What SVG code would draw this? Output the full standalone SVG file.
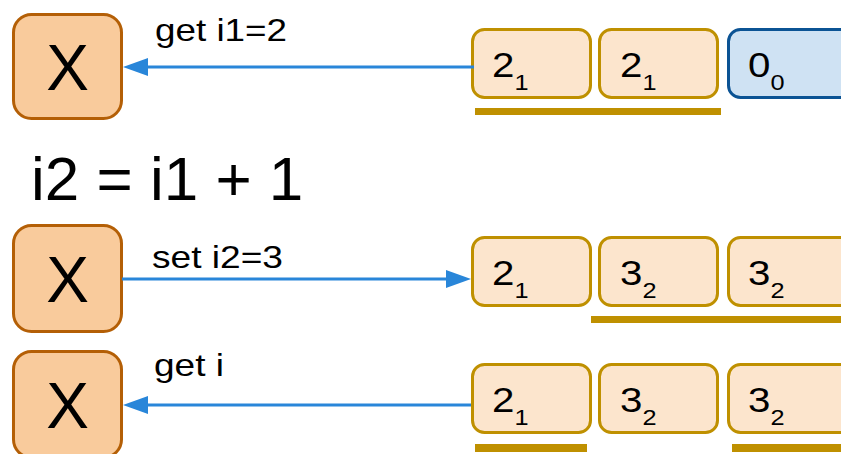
<svg xmlns="http://www.w3.org/2000/svg" width="841" height="454" viewBox="0 0 841 454">
<style>
.x rect{fill:#f9cb9c;stroke:#b45f06;stroke-width:3}
.x text{font-family:"Liberation Sans",Arial,sans-serif;font-size:64px;fill:#000;text-anchor:middle}
.c rect{fill:#fce5cd;stroke:#bf9000;stroke-width:3}
.c.b rect{fill:#cfe2f3;stroke:#0b5394}
.c text,.lbl,.big{font-family:"Liberation Sans",Arial,sans-serif;fill:#000}
.c text{font-size:35px}
.c tspan.s{font-size:22px}
.lbl{font-size:30.5px}
.big{font-size:62px}
.ul{fill:#bf9000}
.ln{stroke:#2986d9;stroke-width:3;fill:none}
.ah{fill:#2986d9}
</style>
<rect width="841" height="454" fill="#fff"/>
<g id="x1" class="x"><rect x="13.5" y="14.5" width="108" height="104" rx="18"/><text x="67.5" y="90">X</text></g>
<g id="x2" class="x"><rect x="13.5" y="225.5" width="108" height="106" rx="18"/><text x="67.5" y="302">X</text></g>
<g id="x3" class="x"><rect x="13.5" y="351.5" width="108" height="106" rx="18"/><text x="67.5" y="428">X</text></g>

<text class="big" x="31" y="200">i2 = i1 + 1</text>

<g id="r1c1" class="c"><rect x="472.5" y="29.5" width="118" height="68" rx="12"/><text transform="translate(492,77) scale(1.15,1)">2<tspan class="s" dy="13">1</tspan></text></g>
<g id="r1c2" class="c"><rect x="599.5" y="29.5" width="118" height="68" rx="12"/><text transform="translate(620,77) scale(1.15,1)">2<tspan class="s" dy="13">1</tspan></text></g>
<g id="r1c3" class="c b"><rect x="728.5" y="29.5" width="130" height="68" rx="12"/><text transform="translate(748,77) scale(1.15,1)">0<tspan class="s" dy="13">0</tspan></text></g>
<rect id="u1" class="ul" x="475" y="108" width="246" height="7"/>

<g id="r2c1" class="c"><rect x="472.5" y="237.5" width="118" height="68" rx="12"/><text transform="translate(492,285) scale(1.15,1)">2<tspan class="s" dy="13">1</tspan></text></g>
<g id="r2c2" class="c"><rect x="599.5" y="237.5" width="118" height="68" rx="12"/><text transform="translate(620,285) scale(1.15,1)">3<tspan class="s" dy="13">2</tspan></text></g>
<g id="r2c3" class="c"><rect x="728.5" y="237.5" width="130" height="68" rx="12"/><text transform="translate(748,285) scale(1.15,1)">3<tspan class="s" dy="13">2</tspan></text></g>
<rect id="u2" class="ul" x="591" y="316" width="250" height="7"/>

<g id="r3c1" class="c"><rect x="472.5" y="364.5" width="118" height="68" rx="12"/><text transform="translate(492,412) scale(1.15,1)">2<tspan class="s" dy="13">1</tspan></text></g>
<g id="r3c2" class="c"><rect x="599.5" y="364.5" width="118" height="68" rx="12"/><text transform="translate(620,412) scale(1.15,1)">3<tspan class="s" dy="13">2</tspan></text></g>
<g id="r3c3" class="c"><rect x="728.5" y="364.5" width="130" height="68" rx="12"/><text transform="translate(748,412) scale(1.15,1)">3<tspan class="s" dy="13">2</tspan></text></g>
<rect id="u3a" class="ul" x="475" y="444" width="112" height="8"/>
<rect id="u3b" class="ul" x="732" y="444" width="109" height="8"/>

<g id="connectors">
<line class="ln" x1="474" y1="67" x2="145" y2="67"/>
<polygon class="ah" points="123,67 148,58 148,76"/>
<line class="ln" x1="122" y1="279" x2="450" y2="279"/>
<polygon class="ah" points="471,279 446,270 446,288"/>
<line class="ln" x1="471" y1="405" x2="145" y2="405"/>
<polygon class="ah" points="123,405 148,396 148,414"/>
<text class="lbl" x="155" y="41" textLength="132" lengthAdjust="spacingAndGlyphs">get i1=2</text>
<text class="lbl" x="152" y="268" textLength="131" lengthAdjust="spacingAndGlyphs">set i2=3</text>
<text class="lbl" x="154" y="376" textLength="70" lengthAdjust="spacingAndGlyphs">get i</text>
</g>
</svg>
